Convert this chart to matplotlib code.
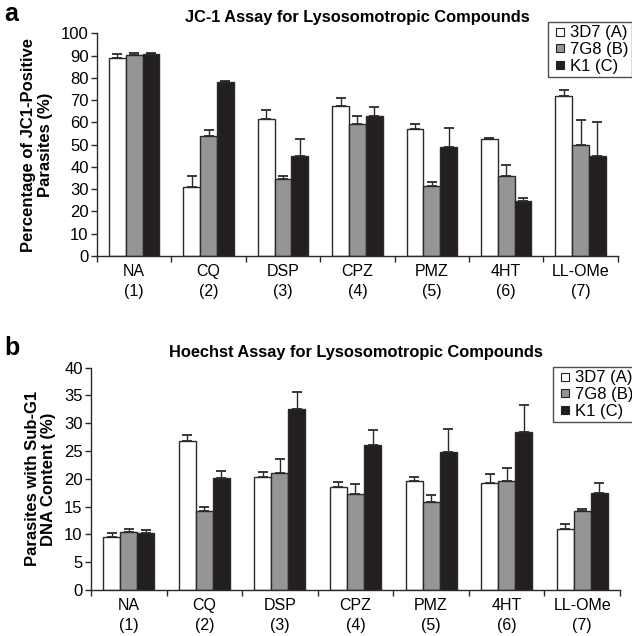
import matplotlib
matplotlib.use("Agg")
import matplotlib.pyplot as plt
from matplotlib.lines import Line2D
import numpy as np

plt.rcParams['font.family'] = ['Liberation Sans', 'DejaVu Sans']

categories = ["NA\n(1)", "CQ\n(2)", "DSP\n(3)", "CPZ\n(4)", "PMZ\n(5)", "4HT\n(6)", "LL-OMe\n(7)"]
series_names = ["3D7 (A)", "7G8 (B)", "K1 (C)"]

# Panel a: JC-1 assay (mean, upper error)
jc1_3d7 = [89.0, 31.0, 61.6, 67.3, 57.0, 52.5, 71.7]
jc1_7g8 = [90.4, 54.0, 34.7, 59.2, 31.3, 36.1, 49.7]
jc1_k1 = [90.8, 78.2, 44.9, 62.8, 49.1, 24.5, 44.9]
jc1_3d7_err = [1.8, 5.1, 4.2, 3.5, 2.4, 0.6, 2.9]
jc1_7g8_err = [1.0, 2.4, 1.4, 3.5, 2.1, 4.7, 11.6]
jc1_k1_err = [0.6, 0.6, 7.6, 4.2, 8.3, 1.7, 15.1]

# Panel b: Hoechst assay
hoe_3d7 = [9.6, 26.8, 20.3, 18.5, 19.7, 19.2, 10.9]
hoe_7g8 = [10.4, 14.3, 21.0, 17.3, 15.8, 19.7, 14.2]
hoe_k1 = [10.25, 20.2, 32.5, 26.0, 24.8, 28.5, 17.4]
hoe_3d7_err = [0.6, 1.0, 0.9, 0.9, 0.6, 1.6, 1.0]
hoe_7g8_err = [0.5, 0.6, 2.6, 1.8, 1.3, 2.2, 0.4]
hoe_k1_err = [0.55, 1.2, 3.2, 2.7, 4.1, 4.8, 1.8]

colors = ["#ffffff", "#959595", "#231f20"]
edge = "#2a2a2a"

fig = plt.figure(figsize=(6.32, 6.36), dpi=100)

def panel(rect, vals, errs, ylim, ystep, ylabel, title, legend_rect):
    ax = fig.add_axes(rect)
    x = np.arange(len(categories))
    w = 0.225
    for i, (v, e) in enumerate(zip(vals, errs)):
        off = (i - 1) * w
        ax.bar(x + off, v, w, color=colors[i], edgecolor=edge, linewidth=1.0, zorder=2)
        ax.errorbar(x + off, v, yerr=[np.zeros(len(v)), e], fmt='none',
                    ecolor=edge, elinewidth=1.0, capsize=3.5, capthick=1.3, zorder=3)
    ax.set_xlim(-0.5, len(categories) - 0.5)
    ax.set_ylim(*ylim)
    ax.set_yticks(np.arange(ylim[0], ylim[1] + 0.1, ystep))
    ax.set_xticks(x)
    ax.set_xticklabels(categories, fontsize=11.5, linespacing=1.35)
    ax.set_xticks(np.arange(-0.5, len(categories) + 0.5, 1), minor=True)
    ax.tick_params(axis='x', which='major', length=0, pad=6)
    ax.tick_params(axis='x', which='minor', length=4, width=1.0, direction='out', color=edge)
    ax.tick_params(axis='y', length=4, width=1.0, direction='out', labelsize=12, pad=2, color=edge)
    for s in ['top', 'right']:
        ax.spines[s].set_visible(False)
    for s in ['left', 'bottom']:
        ax.spines[s].set_linewidth(1.0)
        ax.spines[s].set_color(edge)
    ax.set_ylabel(ylabel, fontsize=12, fontweight='bold', linespacing=1.1, labelpad=6)
    ax.set_title(title, fontsize=11.8, fontweight='bold', pad=8)
    handles = [Line2D([], [], marker='s', linestyle='none', markersize=6,
                      markerfacecolor=c, markeredgecolor='#222222', markeredgewidth=0.8)
               for c in colors]
    leg = fig.legend(handles, series_names, loc='upper left',
                     bbox_to_anchor=legend_rect, bbox_transform=fig.transFigure,
                     frameon=True, fancybox=False, fontsize=12, handletextpad=0.1,
                     borderpad=0.2, labelspacing=0.1, handlelength=1.0, borderaxespad=0)
    leg.get_frame().set_edgecolor('#222222')
    leg.get_frame().set_linewidth(1.0)
    return ax

axa = panel([0.1535, 0.5975, 0.824, 0.350],
            [jc1_3d7, jc1_7g8, jc1_k1], [jc1_3d7_err, jc1_7g8_err, jc1_k1_err],
            (0, 100), 10, "Percentage of JC1-Positive\nParasites (%)",
            "JC-1 Assay for Lysosomotropic Compounds", (548 / 632, 1 - 22 / 636))
axb = panel([0.144, 0.0723, 0.837, 0.3496],
            [hoe_3d7, hoe_7g8, hoe_k1], [hoe_3d7_err, hoe_7g8_err, hoe_k1_err],
            (0, 40), 5, "Parasites with Sub-G1\nDNA Content (%)",
            "Hoechst Assay for Lysosomotropic Compounds", (553 / 632, 1 - 367 / 636))

fig.text(4 / 632, 1 - 2 / 636, "a", fontsize=18, fontweight='bold', va='top', ha='left')
fig.text(4 / 632, 1 - 336 / 636, "b", fontsize=18, fontweight='bold', va='top', ha='left')

fig.savefig("out.png", dpi=100)
